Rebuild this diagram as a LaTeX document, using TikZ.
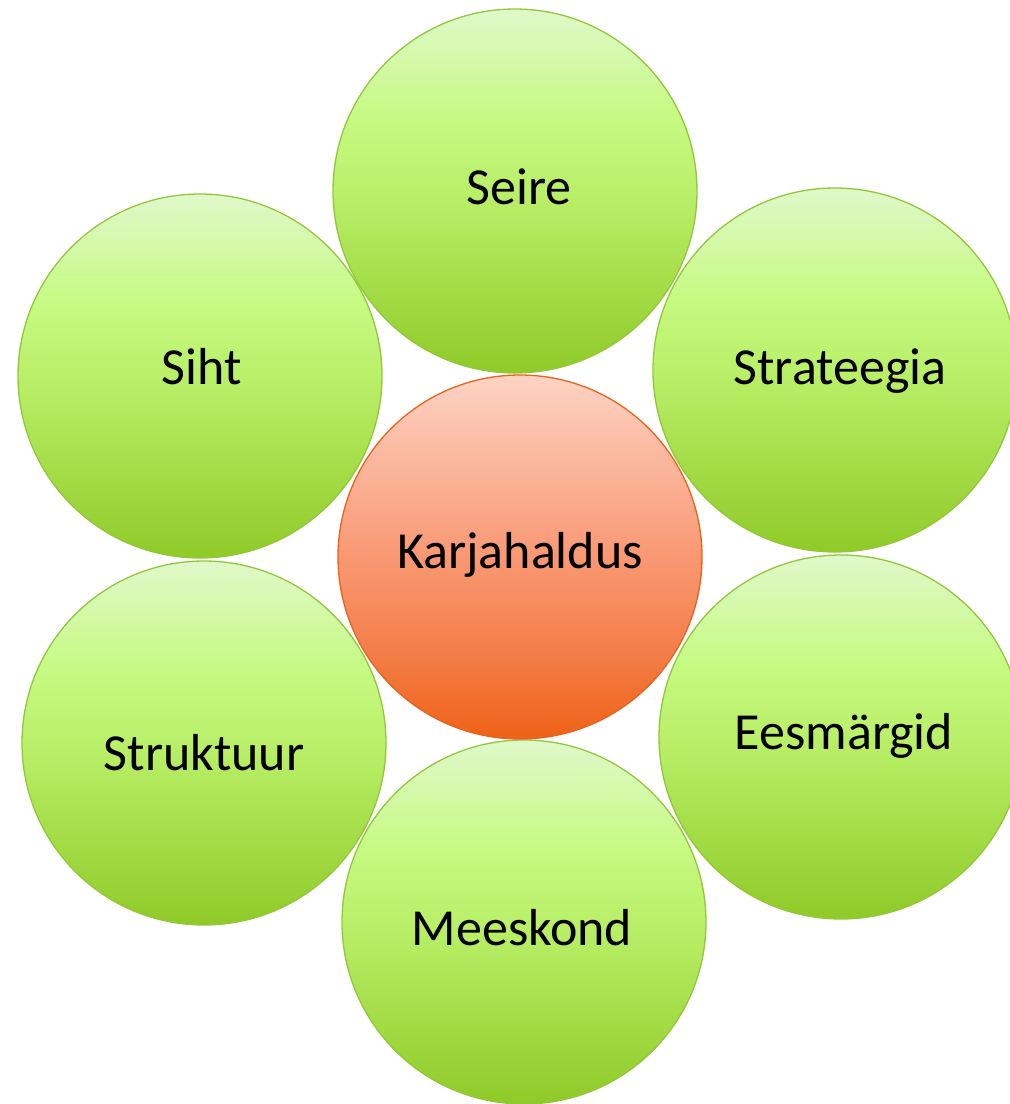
\documentclass[tikz,border=0pt]{standalone}
\usepackage{fontspec}
\setmainfont{Carlito}
\definecolor{gT}{HTML}{E0F8CA}
\definecolor{gM}{HTML}{C6FA82}
\definecolor{gM2}{HTML}{B6EC62}
\definecolor{gB}{HTML}{8FCA28}
\definecolor{gLine}{HTML}{93C73A}
\definecolor{oT}{HTML}{FDD3C4}
\definecolor{oM}{HTML}{F99A76}
\definecolor{oM2}{HTML}{F47E48}
\definecolor{oB}{HTML}{EF6218}
\definecolor{oLine}{HTML}{E8621C}
\pgfdeclareverticalshading{greenball}{100bp}{color(0bp)=(gB); color(25bp)=(gB); color(47bp)=(gM2); color(60bp)=(gM); color(75bp)=(gT); color(100bp)=(gT)}
\pgfdeclareverticalshading{orangeball}{100bp}{color(0bp)=(oB); color(25bp)=(oB); color(37bp)=(oM2); color(51bp)=(oM); color(75bp)=(oT); color(100bp)=(oT)}
\begin{document}
\begin{tikzpicture}[x=1pt,y=-1pt,
  ball/.style={circle, inner sep=0pt, minimum size=364pt, line width=1.3pt},
  greenball/.style={ball, draw=gLine, shade, shading=greenball},
  orangeball/.style={ball, draw=oLine, shade, shading=orangeball},
  lbl/.style={anchor=base, inner sep=0pt, font=\fontsize{52}{60}\selectfont, text=black}]
\useasboundingbox (0,0) rectangle (1010,1104);
\clip (0,0) rectangle (1010,1104);
\node[greenball] (siht) at (200,376) {};
\node[greenball] (seire) at (515,191) {};
\node[greenball] (strat) at (835,370) {};
\node[greenball] (strukt) at (204,743) {};
\node[greenball] (eesm) at (841,737) {};
\node[greenball] (meesk) at (524,922) {};
\node[orangeball] (karja) at (520,557) {};
\node[lbl] (tseire) at (519,204) {Seire};
\node[lbl] (tsiht) at (202,384) {Siht};
\node[lbl] (tstrat) at (840,384) {Strateegia};
\node[lbl] (tkarja) at (520,568) {Karjahaldus};
\node[lbl] (tstrukt) at (204,770) {Struktuur};
\node[lbl] (teesm) at (844,749) {Eesmärgid};
\node[lbl] (tmeesk) at (522,945) {Meeskond};
\end{tikzpicture}
\end{document}
